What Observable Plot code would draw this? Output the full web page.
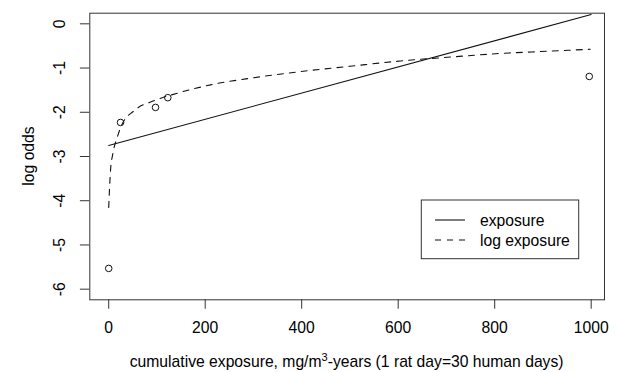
<!DOCTYPE html>
<html><head><meta charset="utf-8">
<script src="https://cdn.jsdelivr.net/npm/d3@7"></script>
<script src="https://cdn.jsdelivr.net/npm/@observablehq/plot@0.6"></script>
<style>body{margin:0;background:#fff} svg{display:block}</style>
</head><body><div id="chart"></div>
<script>
// observed data points
const pointX = [0, 24.5, 97, 122.5, 996];
const pointY = [-5.53, -2.23, -1.89, -1.67, -1.19];
// fitted: linear in exposure
const linX = [0, 1000];
const linY = [-2.75, 0.21];
// fitted: log exposure
const logX = [0, 3.7, 8.5, 17.6, 26.5, 52, 93.5, 142, 211, 300, 397.5, 500, 605, 710, 812, 910, 998];
const logY = [-4.15, -3.32, -2.94, -2.57, -2.30, -1.97, -1.74, -1.57, -1.38, -1.22, -1.08, -0.96, -0.84, -0.75, -0.67, -0.62, -0.575];
const xTicks = [0, 200, 400, 600, 800, 1000];
const yTicks = [0, -1, -2, -3, -4, -5, -6];
const seriesNames = ["exposure", "log exposure"];
const xTitle = ["cumulative exposure, mg/m", "3", "-years (1 rat day=30 human days)"];
const yTitle = "log odds";

const points = pointX.map((x, i) => ({x, y: pointY[i]}));
const lin = linX.map((x, i) => ({x, y: linY[i]}));
const logc = logX.map((x, i) => ({x, y: logY[i]}));

const FS = 15.7;
const font = "Liberation Sans, Arial, Helvetica, sans-serif";
const mL = 89.3, mR = 14, mT = 12.7, mB = 72.7;

const chart = Plot.plot({
  width: 618, height: 372,
  marginLeft: mL, marginRight: mR, marginTop: mT, marginBottom: mB,
  style: {fontFamily: font, fontSize: FS + "px", background: "#fff", color: "#000"},
  x: {domain: [-39.2, 1027.6]},
  y: {domain: [-6.24, 0.24]},
  marks: [
    Plot.frame({stroke: "#333", strokeWidth: 1}),
    Plot.axisX({ticks: xTicks, tickSize: 9.4, tickPadding: 13, tickFormat: d => String(d), fontSize: FS, label: null, stroke: "#333"}),
    Plot.axisY({ticks: yTicks, tickSize: 9.4, tickFormat: () => "", label: null, stroke: "#333"}),
    Plot.text(yTicks, {y: d => d, text: d => String(d), frameAnchor: "left", dx: -29.5, rotate: -90, fontSize: FS, textAnchor: "middle", lineAnchor: "middle"}),
    Plot.line(lin, {x: "x", y: "y", stroke: "#111", strokeWidth: 1.1}),
    Plot.line(logc, {x: "x", y: "y", stroke: "#111", strokeWidth: 1.1, strokeDasharray: "6,6", curve: "monotone-x"}),
    Plot.dot(points, {x: "x", y: "y", r: 3.3, stroke: "#111", fill: "none", strokeWidth: 1})
  ]
});
document.getElementById("chart").appendChild(chart);

const svg = d3.select(chart);
// x title with superscript
const xt = svg.append("text").attr("x", (mL + 618 - mR) / 2).attr("y", 367)
  .attr("text-anchor", "middle").attr("font-size", FS).attr("font-family", font).attr("fill", "#000");
xt.append("tspan").text(xTitle[0]);
xt.append("tspan").attr("dy", -6).attr("font-size", 11).text(xTitle[1]);
xt.append("tspan").attr("dy", 6).text(xTitle[2]);
// y title
svg.append("text").attr("transform", `translate(33.5,${(mT + 372 - mB) / 2}) rotate(-90)`)
  .attr("text-anchor", "middle").attr("font-size", FS).attr("font-family", font).attr("fill", "#000").text(yTitle);
// legend
const lg = svg.append("g");
lg.append("rect").attr("x", 421.3).attr("y", 200).attr("width", 157.4).attr("height", 58.7)
  .attr("fill", "#fff").attr("stroke", "#333");
seriesNames.forEach((name, i) => {
  const yy = 220 + i * 20;
  lg.append("line").attr("x1", 435).attr("x2", 465).attr("y1", yy).attr("y2", yy)
    .attr("stroke", "#111").attr("stroke-width", 1.1).attr("stroke-dasharray", i ? "6,6" : null);
  lg.append("text").attr("x", 480).attr("y", yy + 5.5).attr("text-anchor", "start")
    .attr("font-size", FS).attr("font-family", font).attr("fill", "#000").text(name);
});
</script></body></html>
